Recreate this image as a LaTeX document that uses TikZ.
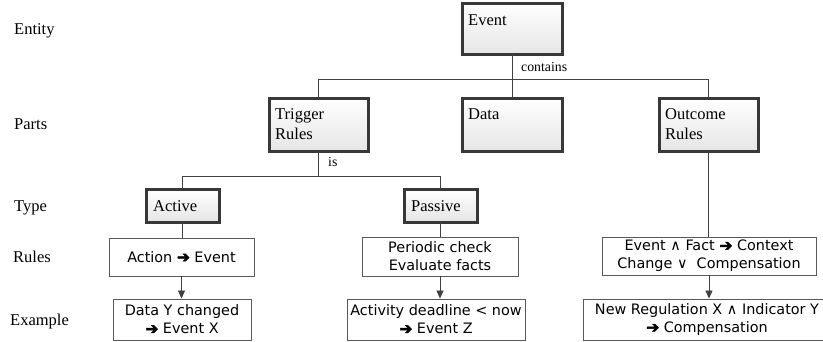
\documentclass[tikz,border=0pt]{standalone}
\usepackage{fontspec}
\setmainfont{Liberation Serif}
\newfontfamily\sansf{DejaVu Sans}
\newfontfamily\sansfb[FakeBold=3]{DejaVu Sans}
\newcommand{\harr}{{\sansfb\fontsize{15.5}{18.2}\selectfont ➔}}
\usetikzlibrary{arrows.meta,shadows}
\begin{document}
\begin{tikzpicture}[x=1pt,y=-1pt,
  conn/.style={draw=black!75,line width=0.8pt},
  arr/.style={conn,-{Triangle[length=8pt,width=7pt]}},
  bigbox/.style={draw=black!78,line width=3pt,top color=white,bottom color=black!10,
    drop shadow={shadow xshift=1.2pt,shadow yshift=-1.2pt,opacity=0.35,fill=black!60},
    inner sep=0pt,outer sep=0pt},
  boxtext/.style={anchor=base west,inner sep=0pt,font=\fontsize{16.5}{20}\selectfont,align=left},
  rowlabel/.style={anchor=base west,inner sep=0pt,font=\fontsize{16.5}{20}\selectfont},
  edgelabel/.style={anchor=base west,inner sep=0pt,font=\fontsize{13.8}{16}\selectfont},
  rulebox/.style={draw=black!65,line width=0.9pt,fill=white,inner sep=0pt,align=center,
    font=\sansf\fontsize{14.4}{18.2}\selectfont}]
\useasboundingbox (0,0) rectangle (823,341);
% row labels
\node[rowlabel] (lEntity) at (14,34.3) {Entity};
\node[rowlabel] (lParts) at (14,129.3) {Parts};
\node[rowlabel] (lType) at (14,211.5) {Type};
\node[rowlabel] (lRules) at (13,262.7) {Rules};
\node[rowlabel] (lExample) at (10,325) {Example};
% big boxes
\node[bigbox,minimum width=100pt,minimum height=51pt] (event) at (512,28.5) {};
\node[bigbox,minimum width=99pt,minimum height=53pt] (trigger) at (318.5,124.5) {};
\node[bigbox,minimum width=100pt,minimum height=53pt] (data) at (512,124.5) {};
\node[bigbox,minimum width=99pt,minimum height=53pt] (outcome) at (708.5,124.5) {};
\node[bigbox,minimum width=73pt,minimum height=33pt] (active) at (182.5,205.5) {};
\node[bigbox,minimum width=73pt,minimum height=33pt] (passive) at (440.5,205.5) {};
\node[boxtext] (eventt) at (468,25) {Event};
\node[boxtext] (triggert) at (275,139.3) {Trigger\\Rules};
\node[boxtext] (datat) at (468,119.3) {Data};
\node[boxtext] (outcomet) at (665,139.3) {Outcome\\Rules};
\node[boxtext] (activet) at (153,211) {Active};
\node[boxtext] (passivet) at (411,211) {Passive};
% rule and example boxes
\node[rulebox,minimum width=145pt,minimum height=38pt] (action) at (181.5,257) {Action \harr{} Event};
\node[rulebox,minimum width=138pt,minimum height=41pt] (datay) at (182,319.5) {Data Y changed\\\harr{} Event X};
\node[rulebox,minimum width=156pt,minimum height=39pt] (periodic) at (440,256.5) {Periodic check\\Evaluate facts};
\node[rulebox,minimum width=178pt,minimum height=41pt] (activity) at (436,319.5) {Activity deadline < now\\\harr{} Event Z};
\node[rulebox,minimum width=214pt,minimum height=38pt] (eventfact) at (709,256) {Event ∧ Fact \harr{} Context\\Change ∨\ \ Compensation};
\node[rulebox,minimum width=248pt,minimum height=41pt] (newreg) at (707,319.5) {New Regulation X ∧ Indicator Y\\\harr{} Compensation};
% connectors
\coordinate (bus1) at (512,79);
\coordinate (bus2) at (318.5,176);
\draw[conn] (event.south) -- (data.north);
\draw[conn] (trigger.north) -- (trigger.north |- bus1) -- (outcome.north |- bus1) -- (outcome.north);
\node[edgelabel] (contains) at (521,71.7) {contains};
\draw[conn] (trigger.south) -- (bus2);
\draw[conn] (active.north) -- (active.north |- bus2) -- (passive.north |- bus2) -- (passive.north);
\node[edgelabel] (is) at (328,166.7) {is};
\draw[conn] (active.south) -- (action.north -| active.south);
\draw[conn] (passive.south) -- (periodic.north -| passive.south);
\draw[conn] (outcome.south) -- (eventfact.north -| outcome.south);
\draw[arr] (action.south) -- (datay.north -| action.south);
\draw[arr] (periodic.south) -- (activity.north -| periodic.south);
\draw[arr] (eventfact.south) -- (newreg.north -| eventfact.south);
\end{tikzpicture}
\end{document}
